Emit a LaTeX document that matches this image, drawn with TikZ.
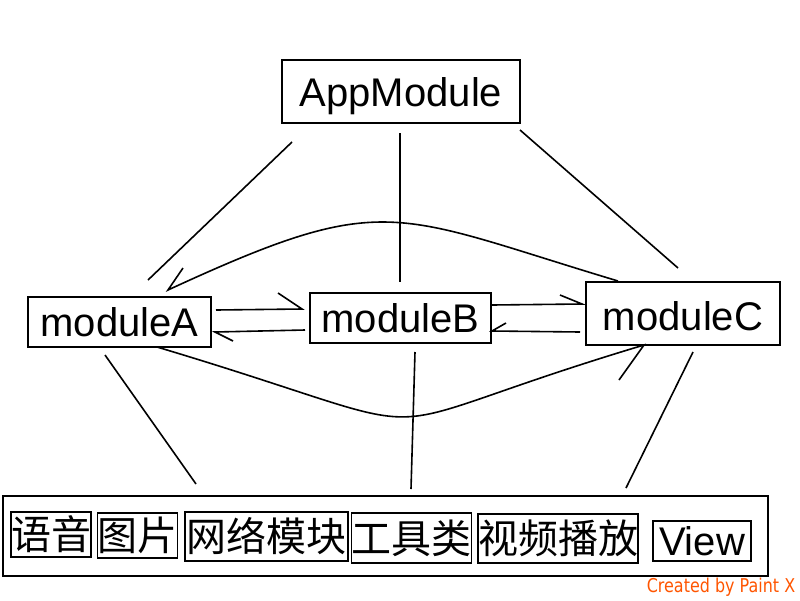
\documentclass[tikz,border=0pt]{standalone}
\usepackage{fontspec}
\setmainfont{Liberation Sans}
\newfontfamily\cjk{Noto Sans CJK SC}
\newfontfamily\wm[FakeStretch=0.84]{DejaVu Sans}
\definecolor{wmcol}{RGB}{255,85,0}
\begin{document}
\begin{tikzpicture}[x=1pt,y=-1pt,line width=1.6pt,
  mod/.style={draw, line width=1.6pt, inner sep=0pt, font=\fontsize{40}{48}\selectfont},
  sub/.style={draw, line width=1.6pt, inner sep=0pt, font=\cjk\fontsize{40}{46}\selectfont},
  conn/.style={line width=1.6pt, line join=miter}]
\useasboundingbox (0,0) rectangle (800,600);
\fill[white] (0,0) rectangle (800,600);

% main nodes
\node[mod, minimum width=238, minimum height=63, text height=34pt, text depth=4pt] (app) at (401,91.5) {AppModule};
\node[mod, minimum width=183, minimum height=50] (ma) at (119.5,322) {moduleA};
\node[mod, minimum width=181, minimum height=50] (mb) at (400.5,318) {moduleB};
\node[mod, minimum width=194, minimum height=63, text height=36pt, text depth=3pt] (mc) at (683,313.5) {moduleC};

% bottom container
\node[draw, line width=1.6pt, minimum width=765, minimum height=80, inner sep=0pt] (base) at (385.5,536) {};
\node[sub, minimum width=80, minimum height=45] (yuyin) at (51,534.5) {语音};
\node[sub, minimum width=77, minimum height=45] (tupian) at (137.5,535.5) {图片};
\node[sub, minimum width=163, minimum height=49] (wangluo) at (266.5,536.5) {网络模块};
\node[sub, minimum width=115, minimum height=50] (gongju) at (411.5,538) {工具类};
\node[sub, minimum width=160, minimum height=49] (shipin) at (558,538.5) {视频播放};
\node[draw, line width=1.6pt, inner sep=0pt, minimum width=98, minimum height=40, font=\fontsize{40}{46}\selectfont] (view) at (702,541) {View};

\node[anchor=base west, inner sep=0pt, text=wmcol, font=\wm\fontsize{19}{21}\selectfont] (wmark) at (646,592) {Created by Paint X};

% connector end points
\coordinate (appA) at (292,142); \coordinate (aTop) at (148,280);
\coordinate (appB) at (400,133); \coordinate (bTop) at (400,282);
\coordinate (appC) at (520,130); \coordinate (cTop) at (678,268);

\coordinate (ab1) at (216,310); \coordinate (ab2) at (302,309); \coordinate (ab3) at (278,293);
\coordinate (ba1) at (305,330); \coordinate (ba2) at (215,332); \coordinate (ba3) at (233,341);
\coordinate (bc1) at (492,305); \coordinate (bc2) at (582,304); \coordinate (bc3) at (560,295);
\coordinate (cb1) at (580,332); \coordinate (cb2) at (492,331); \coordinate (cb3) at (506,323);

\coordinate (ca1) at (618,281); \coordinate (ca2) at (168,290); \coordinate (ca3) at (183,268);
\coordinate (ac1) at (157,347); \coordinate (ac2) at (644,345); \coordinate (ac3) at (619,380);

\coordinate (aBot1) at (105,355); \coordinate (aBot2) at (196,484);
\coordinate (bBot1) at (415,352); \coordinate (bBot2) at (411,489);
\coordinate (cBot1) at (693,352); \coordinate (cBot2) at (626,488);

% AppModule links
\draw[conn] (appA) -- (aTop);
\draw[conn] (appB) -- (bTop);
\draw[conn] (appC) -- (cTop);

% horizontal half arrows
\draw[conn] (ab1) -- (ab2) -- (ab3);
\draw[conn] (ba1) -- (ba2) -- (ba3);
\draw[conn] (bc1) -- (bc2) -- (bc3);
\draw[conn] (cb1) -- (cb2) -- (cb3);

% curves
\draw[conn] (ca1) .. controls (391,213) and (387,189) .. (ca2) -- (ca3);
\draw[conn] (ac1) .. controls (478,443) and (334,438) .. (ac2) -- (ac3);

% links to bottom
\draw[conn] (aBot1) -- (aBot2);
\draw[conn] (bBot1) -- (bBot2);
\draw[conn] (cBot1) -- (cBot2);
\end{tikzpicture}
\end{document}
